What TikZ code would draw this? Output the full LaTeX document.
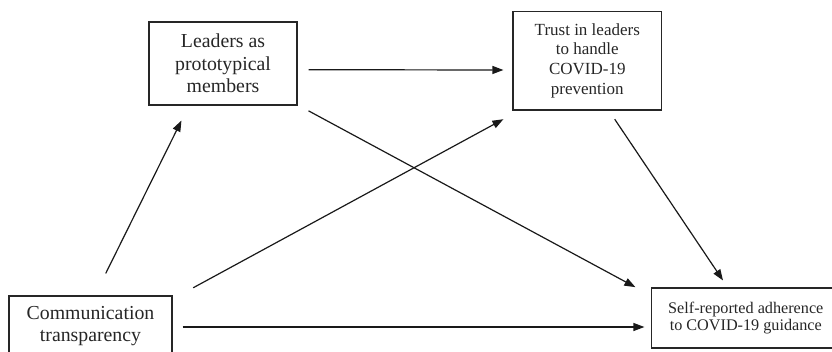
\documentclass[tikz,border=0pt]{standalone}
\usepackage{fontspec}
\setmainfont{Liberation Serif}
\usetikzlibrary{arrows.meta,calc}
\begin{document}
\begin{tikzpicture}[x=1pt,y=-1pt,
  box/.style={draw=black!85, line width=1.1pt, inner sep=0pt, align=center, text=black!85},
  big/.style={font=\fontsize{19.8pt}{22.5pt}\selectfont},
  mid/.style={font=\fontsize{17pt}{19.8pt}\selectfont},
  sml/.style={font=\fontsize{16.2pt}{17.8pt}\selectfont},
  arr/.style={draw=black!90, line width=1.2pt, -{Triangle[length=11pt,width=8pt]}}]
\useasboundingbox (0,0) rectangle (832,351);
\node[box,big,minimum width=148pt,minimum height=83pt] (L) at (223,63.5) {Leaders as\\prototypical\\members};
\node[box,mid,minimum width=148.7pt,minimum height=98.5pt] (T) at (587.3,60.7) {Trust in leaders\\to handle\\COVID-19\\prevention};
\node[box,big,minimum width=163pt,minimum height=60pt] (C) at (90.5,326) {Communication\\transparency};
\node[box,sml,minimum width=188.3pt,minimum height=60pt] (S) at (745.8,318) {Self-reported adherence\\to COVID-19 guidance};
\draw[arr] ($(L.east)+(11,6.2)$) -- ($(T.west)+(-9,9.3)$);
\draw[arr] ($(L.south east)+(11,5.3)$) -- ($(S.north west)+(-15.7,-0.3)$);
\draw[arr] ($(C.north)+(15.2,-22)$) -- ($(L.south west)+(33,15)$);
\draw[arr] ($(C.north east)+(20.7,-7.7)$) -- ($(T.south west)+(-9,8.7)$);
\draw[arr] ($(T.south)+(27.4,8.7)$) -- ($(S.north)+(-22.8,-7)$);
\draw[arr] ($(C.east)+(10,1)$) -- ($(S.west)+(-6.7,9)$);
\end{tikzpicture}
\end{document}
